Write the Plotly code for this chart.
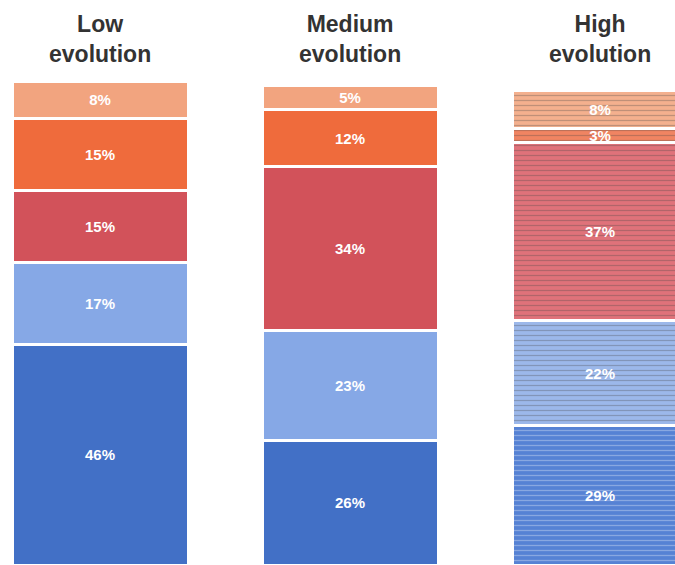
import plotly.graph_objects as go

categories = ["Low<br>evolution", "Medium<br>evolution", "High<br>evolution"]
seg_names = ["Seg1", "Seg2", "Seg3", "Seg4", "Seg5"]
# bottom to top
values = {
    "Seg1": [46, 26, 29],
    "Seg2": [17, 23, 22],
    "Seg3": [15, 34, 37],
    "Seg4": [15, 12, 3],
    "Seg5": [8, 5, 8],
}
colors = {
    "Seg1": ["#4270c6", "#4270c6", "#5682d4"],
    "Seg2": ["#86a8e6", "#86a8e6", "#9cb8ea"],
    "Seg3": ["#d2525a", "#d2525a", "#e0727a"],
    "Seg4": ["#ef6b3c", "#ef6b3c", "#f08462"],
    "Seg5": ["#f2a47f", "#f2a47f", "#f4b08e"],
}

xs = [0, 1, 2]
fig = go.Figure()
for name in seg_names:
    fig.add_trace(go.Bar(
        x=xs, y=values[name], width=0.704,
        marker=dict(color=colors[name], line=dict(color="white", width=3),
                    pattern=dict(shape=["", "", "-"], fgcolor="white", fgopacity=0.3, size=5, solidity=0.25)),
        text=[f"<b>{v}%</b>" for v in values[name]],
        textposition="inside", insidetextanchor="middle",
        textfont=dict(color="white", size=15, family="Arial, Liberation Sans, sans-serif"),
        textangle=0, showlegend=False,
    ))

for i, c in enumerate(categories):
    fig.add_annotation(x=xs[i], y=1, xref="x", yref="paper", yanchor="bottom", yshift=14,
                       text=f"<b>{c}</b>", showarrow=False, align="center",
                       font=dict(size=23, color="#333333", family="Arial, Liberation Sans, sans-serif"))

fig.update_layout(
    barmode="stack", width=675, height=565,
    margin=dict(l=0, r=0, t=83, b=0),
    plot_bgcolor="white", paper_bgcolor="white",
    xaxis=dict(range=[-0.4, 2.3], visible=False),
    yaxis=dict(range=[0, 100.5], visible=False),
    uniformtext=dict(minsize=8, mode="show"),
)
fig.write_html("out.html")
